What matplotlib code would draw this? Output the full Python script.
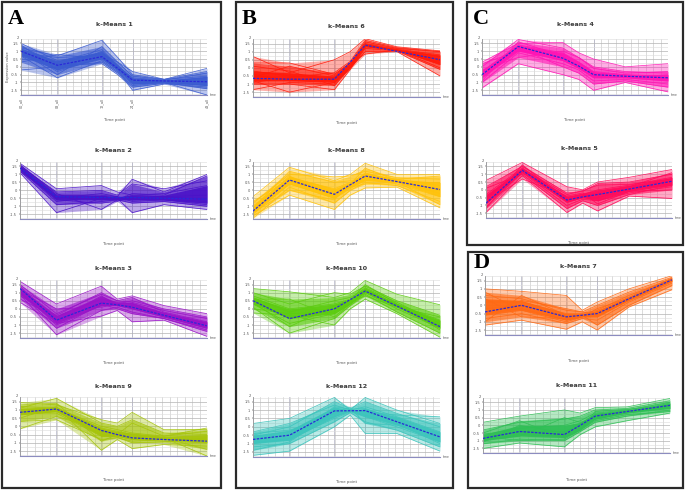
import numpy as np
import matplotlib
matplotlib.use("Agg")
import matplotlib.pyplot as plt
from matplotlib.patches import Rectangle

# ---------------- data ----------------
time_x = [0, 19.5, 43.5, 52, 60, 77, 100]
time_tick_pos = [0, 19.5, 43.5, 60, 100]
time_tick_labels = ["00_all", "03_all", "12_all", "24_all", "48_all"]
y_ticks = [-1.5, -1, -0.5, 0, 0.5, 1, 1.5]

km1_lines = [
    [1.5, 0.4, 0.8, 0.3, -0.3, -0.8, -0.6],
    [1.3, 0.2, 0.9, 0.0, -0.9, -0.9, -1.0],
    [1.1, -0.3, 0.6, -0.2, -1.0, -0.95, -1.2],
    [0.9, 0.6, 0.7, 0.0, -0.7, -0.85, -0.4],
    [0.7, -0.7, 0.4, -0.3, -1.1, -1.0, -1.4],
    [0.5, 0.3, 1.1, 0.1, -0.8, -0.9, -0.9],
    [-0.2, 0.0, 0.3, -0.4, -1.2, -1.0, -1.8],
    [1.2, 0.7, 1.7, 0.6, -0.5, -0.8, -0.1],
    [0.8, 0.1, 0.2, -0.5, -1.3, -1.05, -1.3],
    [1.4, -0.2, 1.0, 0.1, -0.9, -0.9, -0.7],
    [0.3, 0.8, 0.5, -0.2, -1.5, -1.1, -1.1],
    [1.0, -0.5, 1.3, 0.3, -0.6, -0.8, -0.3],
]
km1_mean = [1.0, 0.1, 0.65, -0.1, -0.85, -0.9, -0.95]

km2_lines = [
    [1.7, 0.1, 0.3, -0.1, -0.3, -0.4, -0.6],
    [1.5, -0.3, -0.4, -0.5, -0.6, -0.5, -0.5],
    [1.3, -0.6, -0.8, -0.7, -0.4, -0.6, -0.8],
    [1.1, -1.4, -0.5, -0.6, -0.8, -0.7, -1.0],
    [1.6, -0.2, -1.2, -0.6, -0.2, -0.3, 0.9],
    [1.4, -0.5, -0.2, -0.4, 0.7, -0.1, 1.0],
    [1.2, -0.4, -0.6, -0.5, -1.4, -0.9, -1.2],
    [1.5, -0.1, 0.0, -0.3, 0.4, 0.1, 0.6],
    [1.3, -0.7, -0.4, -0.5, -0.5, -0.4, -0.3],
    [1.6, -0.3, -0.3, -0.4, -0.7, -0.6, -0.9],
    [1.2, -0.9, -0.7, -0.6, -0.3, -0.2, 0.3],
    [1.45, -0.45, -0.5, -0.4, -0.6, -0.55, -0.7],
]
km2_mean = [1.4, -0.4, -0.45, -0.45, -0.45, -0.5, -0.55]

km3_lines = [
    [1.7, 0.3, 1.4, 0.6, 0.8, 0.2, -0.3],
    [1.5, -0.3, 0.9, 0.5, 0.4, -0.1, -0.6],
    [1.3, -0.7, 0.4, 0.3, 0.1, -0.4, -1.0],
    [1.1, -1.0, 0.2, 0.2, 0.0, -0.5, -1.2],
    [0.9, -1.6, -0.1, 0.1, -0.2, -0.6, -1.4],
    [0.6, -0.5, 0.6, 0.4, 0.3, -0.3, -0.9],
    [0.4, -0.9, -0.45, -0.1, -0.8, -0.7, -1.7],
    [1.2, 0.0, 0.1, 0.3, 0.5, 0.0, -0.5],
    [1.4, -0.8, 0.8, 0.2, 0.2, -0.4, -1.1],
    [1.0, -1.2, 0.3, 0.0, -0.3, -0.6, -1.3],
    [0.8, -0.4, 1.0, 0.5, 0.7, -0.2, -0.8],
]
km3_mean = [1.25, -0.7, 0.35, 0.25, 0.1, -0.4, -1.05]

km9_lines = [
    [1.45, 1.3, 0.4, 0.2, 0.85, -0.2, -0.2],
    [1.2, 1.1, 0.0, -0.2, -0.4, -0.6, -0.1],
    [0.9, 1.0, -0.3, -0.5, -0.7, -0.8, -0.9],
    [0.7, 0.9, -0.5, -0.6, -0.8, -0.9, -1.0],
    [0.5, 1.2, -1.45, -0.8, -1.35, -1.1, -1.2],
    [-0.15, 0.6, -0.2, -0.4, -0.6, -0.7, -1.8],
    [1.1, 1.7, 0.2, 0.0, 0.4, -0.4, -0.5],
    [0.3, 0.4, -0.8, -0.7, -0.9, -0.8, -0.8],
    [1.0, 1.05, -0.1, -0.3, -0.5, -0.7, -1.4],
    [0.8, 0.8, -0.6, -0.65, -1.0, -0.95, -0.7],
    [1.3, 1.4, -0.9, -0.5, 0.2, -0.6, -0.3],
]
km9_mean = [0.85, 1.05, -0.25, -0.5, -0.7, -0.8, -0.9]

km6_lines = [
    [0.7, -0.3, 0.5, 1.0, 1.8, 1.3, 1.05],
    [0.3, 0.3, -0.4, 0.3, 1.6, 1.2, 1.0],
    [-0.2, -0.5, -0.6, 0.2, 1.5, 1.15, 0.8],
    [-0.5, -0.7, -0.8, 0.2, 1.4, 1.1, 0.5],
    [-0.8, -1.5, -0.9, 0.0, 1.3, 1.1, 0.3],
    [-1.0, -1.0, -1.35, -0.1, 1.2, 1.05, -0.1],
    [-1.35, -0.9, -1.0, 0.0, 1.0, 1.0, -0.5],
    [-0.6, 0.1, -0.5, 0.3, 0.85, 1.1, 0.0],
    [-0.9, -0.6, -0.3, 0.4, 1.7, 1.25, 1.0],
    [-0.4, -0.8, -0.7, 0.1, 1.45, 1.1, 0.7],
    [0.1, -0.2, -1.1, 0.0, 1.35, 1.1, 0.2],
]
km6_mean = [-0.65, -0.7, -0.7, 0.35, 1.4, 1.02, 0.5]

km8_lines = [
    [-0.4, 1.45, 0.6, 1.0, 1.7, 1.0, 1.0],
    [-0.8, 1.0, 0.85, 0.9, 1.2, 0.8, 0.7],
    [-1.0, 0.8, 0.1, 0.5, 1.0, 0.7, 0.3],
    [-1.3, 0.6, -0.3, 0.3, 0.9, 0.6, 0.0],
    [-1.5, 0.4, -0.5, 0.1, 0.7, 0.4, -0.4],
    [-1.75, 0.2, -0.8, 0.0, 0.5, 0.3, -0.7],
    [-1.6, -0.3, -1.2, -0.3, 0.15, 0.2, -1.1],
    [-1.1, 1.2, 0.5, 0.6, 0.6, 0.7, 0.9],
    [-1.4, 0.0, -0.6, 0.4, 1.4, 0.6, -0.2],
    [-0.7, 0.7, -0.1, 0.2, 0.4, 0.5, 0.5],
    [-1.2, 0.9, -0.4, 0.35, 1.1, 0.55, -0.9],
]
km8_mean = [-1.3, 0.65, -0.25, 0.35, 0.9, 0.55, 0.05]

km10_lines = [
    [1.25, 1.05, 0.7, 1.0, 1.75, 0.9, 0.25],
    [1.0, 0.3, 1.0, 0.9, 1.4, 0.5, -0.4],
    [0.7, -0.2, 0.5, 0.7, 1.2, 0.3, -0.7],
    [0.5, -0.6, 0.0, 0.5, 1.1, 0.2, -1.0],
    [0.3, -0.9, -0.3, 0.3, 1.0, 0.0, -1.2],
    [0.1, -1.5, -0.6, 0.2, 0.9, -0.2, -1.5],
    [-0.25, -0.4, -1.0, 0.0, 0.6, -0.3, -1.75],
    [0.8, 0.0, 0.3, 0.6, 1.3, 0.4, -0.9],
    [0.4, -1.1, 0.2, 0.5, 1.5, 0.3, -1.3],
    [0.0, -0.3, -0.2, 0.4, 0.8, 0.1, -0.5],
    [0.6, 0.6, -0.5, 0.3, 1.05, 0.25, -1.1],
]
km10_mean = [0.5, -0.6, 0.0, 0.57, 1.1, 0.17, -1.1]

km12_lines = [
    [0.2, 0.5, 1.75, 1.0, 0.9, 0.7, 0.6],
    [-0.3, 0.2, 1.3, 1.0, 1.75, 1.0, 0.2],
    [-0.6, -0.3, 1.0, 1.0, 1.2, 0.6, -0.3],
    [-0.8, -0.5, 0.8, 1.0, 0.9, 0.3, -0.6],
    [-1.0, -0.7, 0.5, 0.9, 0.6, 0.0, -0.9],
    [-1.2, -1.0, 0.3, 0.85, 0.3, -0.2, -1.2],
    [-1.7, -1.45, 0.0, 0.7, -0.4, -0.4, -1.45],
    [-0.5, 0.0, 1.5, 1.1, 1.5, 0.8, 0.0],
    [-0.9, -0.8, 1.2, 1.05, 1.1, 0.4, -0.7],
    [-0.4, -0.2, 0.6, 0.95, 0.7, 0.2, -1.0],
    [-1.4, -0.9, 0.9, 1.15, 0.2, 0.1, -0.4],
]
km12_mean = [-0.75, -0.5, 0.95, 0.96, 0.97, 0.3, -0.6]

km4_lines = [
    [0.3, 1.5, 1.55, 0.9, 0.5, 0.0, 0.2],
    [0.0, 1.75, 1.2, 0.6, 0.0, -0.3, -0.4],
    [-0.3, 1.4, 0.9, 0.3, -0.3, -0.5, -0.6],
    [-0.5, 1.3, 0.6, 0.1, -0.5, -0.6, -0.7],
    [-0.7, 1.1, 0.4, -0.1, -0.7, -0.7, -0.9],
    [-1.0, 0.9, 0.2, -0.2, -0.9, -0.8, -1.1],
    [-1.35, 0.2, -0.5, -0.8, -1.5, -1.0, -1.6],
    [-0.2, 0.6, 1.0, 0.6, -0.1, -0.4, -0.3],
    [-0.9, 1.6, 0.7, 0.0, -0.6, -0.7, -0.5],
    [-0.6, 1.2, 0.0, -0.4, -1.1, -0.9, -1.3],
    [0.2, 1.0, 0.8, 0.3, -0.4, -0.5, -0.8],
]
km4_mean = [-0.5, 1.3, 0.55, 0.05, -0.5, -0.6, -0.7]

km5_lines = [
    [0.6, 1.75, 0.2, 0.0, 0.5, 0.8, 1.3],
    [0.2, 1.5, -0.2, -0.1, 0.4, 0.5, 1.0],
    [-0.3, 1.4, -0.5, -0.3, 0.0, 0.3, 0.8],
    [-0.6, 1.3, -0.6, -0.4, -0.3, 0.1, 0.6],
    [-0.9, 1.2, -0.8, -0.5, -0.5, 0.0, 0.4],
    [-1.1, 1.1, -1.0, -0.6, -0.7, -0.2, 0.2],
    [-1.45, 0.9, -1.45, -0.85, -1.35, -0.4, -0.55],
    [-0.8, 0.7, -0.4, -0.2, -0.9, -0.1, 0.0],
    [-1.2, 1.6, -0.7, -0.4, -0.2, 0.2, 1.1],
    [0.1, 1.0, -1.2, -0.7, -1.0, -0.3, 0.3],
    [-0.5, 1.35, -0.3, -0.05, 0.3, 0.35, 0.7],
]
km5_mean = [-0.85, 1.25, -0.65, -0.45, -0.3, 0.05, 0.55]

km7_lines = [
    [1.0, 0.85, 0.6, -0.3, 0.2, 1.0, 1.8],
    [0.6, 0.4, -0.3, -0.4, 0.0, 0.8, 1.7],
    [0.2, 0.2, -0.5, -0.5, -0.3, 0.6, 1.6],
    [-0.2, 0.0, -0.7, -0.6, -0.5, 0.4, 1.55],
    [-0.5, -0.2, -0.9, -0.7, -0.7, 0.3, 1.45],
    [-0.8, -0.5, -1.1, -0.8, -0.9, 0.2, 1.35],
    [-1.2, -0.9, -1.45, -1.0, -1.5, -0.1, 0.95],
    [-1.0, 0.6, -0.6, -0.6, -1.2, 0.0, 1.2],
    [0.4, -0.7, -0.8, -0.65, -0.4, 0.5, 1.65],
    [-0.6, 0.3, -0.2, -0.4, -0.6, 0.35, 1.5],
    [0.8, -0.3, -1.0, -0.7, -0.2, 0.45, 1.6],
]
km7_mean = [-0.4, 0.0, -0.7, -0.6, -0.5, 0.4, 1.55]

km11_lines = [
    [0.2, 0.6, 1.0, 0.8, 1.15, 1.2, 1.75],
    [-0.3, 0.2, 0.4, 0.6, 1.0, 1.1, 1.6],
    [-0.6, -0.2, 0.0, 0.3, 0.8, 1.0, 1.5],
    [-0.8, -0.4, -0.4, 0.0, 0.6, 0.9, 1.35],
    [-1.0, -0.6, -0.7, -0.2, 0.4, 0.8, 1.2],
    [-1.2, -0.9, -1.0, -0.4, 0.2, 0.6, 1.0],
    [-1.5, -1.15, -1.4, -0.6, -0.1, 0.3, 0.8],
    [-0.5, 0.3, -0.8, -0.3, 0.9, 1.05, 1.3],
    [-0.9, -0.7, 0.5, 0.2, 0.5, 0.85, 1.45],
    [-1.1, 0.0, -0.5, 0.1, 0.7, 0.95, 1.1],
    [-0.7, -1.0, -0.9, -0.3, 0.3, 0.7, 0.9],
]
km11_mean = [-0.85, -0.4, -0.6, 0.0, 0.6, 0.9, 1.3]

# ---------------- layout (pixels) ----------------
W, H = 685, 490
fig = plt.figure(figsize=(W / 100, H / 100), dpi=100)
fig.patch.set_facecolor("white")

# (title, lines, mean, color, x0, x1, ytop, ybot, title_y, timepoint_y, xticklabels?)
panels = [
    ("k-Means 1", km1_lines, km1_mean, "#3a5bd0", 21, 207, 39, 95, 25, 120, True),
    ("k-Means 2", km2_lines, km2_mean, "#4a12c8", 20, 207, 162, 219, 150, 244, False),
    ("k-Means 3", km3_lines, km3_mean, "#9a12c8", 20, 207, 280, 338, 268, 363, False),
    ("k-Means 9", km9_lines, km9_mean, "#a6c40a", 20, 207, 397, 456, 386, 480, False),
    ("k-Means 6", km6_lines, km6_mean, "#ff1a0a", 253, 440, 39, 97, 27, 123, False),
    ("k-Means 8", km8_lines, km8_mean, "#ffc20a", 253, 440, 162, 219, 150, 244, False),
    ("k-Means 10", km10_lines, km10_mean, "#5ccc10", 253, 440, 280, 338, 268, 363, False),
    ("k-Means 12", km12_lines, km12_mean, "#3cc4bc", 253, 440, 397, 457, 386, 482, False),
    ("k-Means 4", km4_lines, km4_mean, "#ff14b4", 482, 668, 39, 95, 25, 120, False),
    ("k-Means 5", km5_lines, km5_mean, "#ff0a5a", 486, 672, 162, 218, 149, 243, False),
    ("k-Means 7", km7_lines, km7_mean, "#ff6a14", 485, 672, 276, 335, 266, 361, False),
    ("k-Means 11", km11_lines, km11_mean, "#2fbf55", 483, 670, 398, 453, 385, 480, False),
]

for (title, lines, mean, col, x0, x1, yt, yb, ty, tpy, xtl) in panels:
    ax = fig.add_axes([x0 / W, 1 - yb / H, (x1 - x0) / W, (yb - yt) / H])
    ax.set_xlim(0, 100)
    ax.set_ylim(-1.8, 1.78)
    # grid
    for gx in np.arange(0, 101, 4):
        ax.axvline(gx, color="#c8c8c8", lw=0.45, zorder=0)
    for gx in time_tick_pos:
        ax.axvline(gx, color="#b0b0c4", lw=0.5, zorder=0)
    for gy in np.arange(-1.75, 1.76, 0.25):
        major = abs(gy * 2 - round(gy * 2)) < 1e-6
        ax.axhline(gy, color="#b4b4b4" if major else "#dcdcdc",
                   lw=0.5 if major else 0.4, zorder=0)
    arr = np.array(lines)
    s = np.sort(arr, axis=0)
    ax.fill_between(time_x, s[0], s[-1], color=col, alpha=0.35, lw=0, zorder=1)
    ax.fill_between(time_x, s[1], s[-2], color=col, alpha=0.6, lw=0, zorder=1)
    ax.fill_between(time_x, s[3], s[-4], color=col, alpha=0.9, lw=0, zorder=1)
    for row in lines:
        ax.plot(time_x, row, color=col, lw=0.55, alpha=0.9, zorder=2)
    ax.plot(time_x, mean, color="#2a2ad8", lw=0.9, ls=(0, (2, 1)), zorder=3)
    # axes styling
    for sp in ("top", "right"):
        ax.spines[sp].set_visible(False)
    ax.spines["left"].set_color("#9a9a9a")
    ax.spines["left"].set_linewidth(0.6)
    ax.spines["bottom"].set_color("#8c8cc0")
    ax.spines["bottom"].set_linewidth(0.8)
    ax.set_yticks(y_ticks)
    ax.set_yticklabels([f"{v:g}" for v in y_ticks], fontsize=2.6, color="#555")
    ax.tick_params(axis="y", length=1, width=0.3, pad=1)
    if xtl:
        ax.set_xticks(time_tick_pos)
        ax.set_xticklabels(time_tick_labels, rotation=90, fontsize=2.4, color="#555")
        ax.tick_params(axis="x", length=1, width=0.3, pad=1)
        ax.set_ylabel("Expression value", fontsize=2.6, color="#555", labelpad=1)
    else:
        ax.set_xticks([])
    ax.text(-0.012, 1.02, "2", transform=ax.transAxes, fontsize=2.6, color="#555",
            ha="right", va="center")
    ax.text(1.015, 0.0, "time", transform=ax.transAxes, fontsize=2.2, color="#555",
            ha="left", va="center")
    xc = (x0 + x1) / 2
    fig.text(xc / W, 1 - ty / H, title, fontsize=4.6, fontweight="bold", color="#3a3a3a",
             ha="center", va="center")
    fig.text(xc / W, 1 - tpy / H, "Time point", fontsize=2.8, color="#555",
             ha="center", va="center")

# panel boxes
boxes = [("A", 2, 221, 2, 488, 22), ("B", 236, 453, 2, 488, 22),
         ("C", 467, 683, 2, 245, 22), ("D", 468, 683, 252, 488, 15.5)]
for (lab, bx0, bx1, by0, by1, off) in boxes:
    fig.patches.append(Rectangle((bx0 / W, 1 - by1 / H), (bx1 - bx0) / W, (by1 - by0) / H,
                                 transform=fig.transFigure, fill=False,
                                 edgecolor="#2a2a2a", lw=1.6))
    fig.text((bx0 + 6) / W, 1 - (by0 + off) / H, lab, fontsize=16, fontweight="bold",
             family="Liberation Serif", color="black", ha="left", va="baseline")

fig.savefig("out.png", dpi=100)
